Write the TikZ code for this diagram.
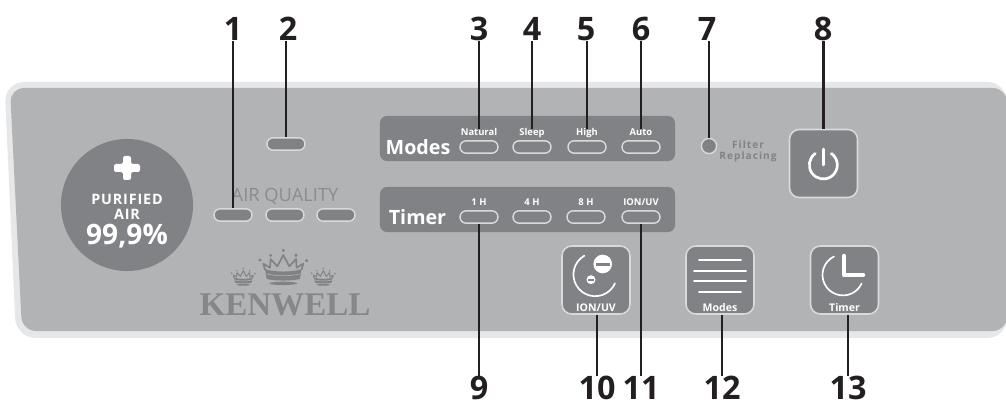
\documentclass[tikz,border=0pt]{standalone}
\usepackage{fontspec}
\setmainfont{Open Sans}
\newfontfamily\logofont{Liberation Serif}
\definecolor{panelgray}{HTML}{B1B3B4}
\definecolor{paneledge}{HTML}{E6E7E8}
\definecolor{keygray}{HTML}{808285}
\definecolor{keyedge}{HTML}{D9DADB}
\definecolor{leaderblack}{HTML}{231F20}
\tikzset{
    num/.style={font=\fontsize{23}{23}\selectfont\bfseries,text=leaderblack,inner sep=0pt},
    leader/.style={draw=leaderblack,line width=1.6pt},
    pill/.style={draw=keyedge,fill=keygray,line width=1pt,rounded corners=4.4pt,minimum width=0.95cm,minimum height=0.31cm,inner sep=0pt},
    key/.style={draw=keyedge,fill=keygray,line width=1.1pt,rounded corners=7pt,minimum width=1.7cm,minimum height=1.7cm,inner sep=0pt},
    band/.style={fill=keygray,draw=none,rounded corners=5pt,minimum width=7.375cm,minimum height=1.125cm,inner sep=0pt},
    small/.style={font=\fontsize{6.7}{7}\selectfont\bfseries,text=white,inner sep=0pt,anchor=base},
    keytxt/.style={font=\fontsize{7.5}{8}\selectfont\bfseries,text=white,inner sep=0pt,anchor=base},
    head/.style={font=\fontsize{14}{16}\selectfont\bfseries,text=white,inner sep=0pt},
    badgetxt/.style={text=white,inner sep=0pt,anchor=base},
    filtertxt/.style={font=\fontsize{7.2}{8}\selectfont\bfseries,text=keygray,inner sep=0pt,anchor=base},
    icon/.style={draw=white,line cap=round}
}
\newcommand{\crownshape}[1]{%
    \draw[line width=#1,line join=round] (-55,6)--(-60,24)--(-40,12)--(-38,38)--(-18,16)--(0,50)--(18,16)--(38,38)--(40,12)--(60,24)--(55,6);
    \fill (-55,8) .. controls (-30,-2) and (30,-2) .. (55,8) -- (50,-22) .. controls (25,-28) and (-25,-28) .. (-50,-22) -- cycle;
    \draw[panelgray,line width=0.4pt] (-52,-6) .. controls (-25,-14) and (25,-14) .. (52,-6);
    \fill (0,-35) ellipse[x radius=42,y radius=5];
    \fill (-70,35) circle[radius=5];
    \fill (-38,49) circle[radius=5];
    \fill (0,64) circle[radius=5];
    \fill (38,49) circle[radius=5];
    \fill (70,33) circle[radius=5];
}
\begin{document}
\begin{tikzpicture}[x=0.025cm,y=0.025cm]
        \useasboundingbox (0,0) rectangle (1006,402);
        % panel
        \begin{scope}
        \clip (0,0) rectangle (1006,402);
        \fill[paneledge,rounded corners=14pt] (4.5,320)--(16,64)--(1007,64)--(1007,320)--cycle;
        \fill[panelgray,rounded corners=10pt] (10,314)--(22,71)--(1007,71)--(1007,314)--cycle;
        \end{scope}
        % badge
        \node[circle,fill=keygray,minimum size=3.3cm,inner sep=0pt] (badge) at (127,197) {};
        \fill[white,rounded corners=1.5pt] (123,246)--(131,246)--(131,238)--(140,238)--(140,230)--(131,230)--(131,222)--(123,222)--(123,230)--(114,230)--(114,238)--(123,238)--cycle;
        \node[badgetxt,font=\fontsize{10.2}{10}\selectfont\bfseries] (purified) at (127,197) {\addfontfeature{LetterSpace=6}PURIFIED};
        \node[badgetxt,font=\fontsize{10.2}{10}\selectfont\bfseries] (air) at (127,183) {\addfontfeature{LetterSpace=6}AIR};
        \node[badgetxt,font=\fontsize{20}{20}\selectfont\bfseries] (percent) at (127,157) {99,9\%};
        % air quality
        \node[pill] (q1) at (233,187) {};
        \node[pill] (q2) at (285,187) {};
        \node[pill] (q3) at (336,187) {};
        \node[pill] (dust) at (286,258) {};
        \node[font=\fontsize{13}{13}\selectfont,text=keygray!80!panelgray,inner sep=0pt,anchor=base] (quality) at (285,200.3) {AIR QUALITY};
        % logo
        \node[font=\logofont\fontsize{23.5}{25}\selectfont\bfseries,text=keygray!90!panelgray,inner sep=0pt] (brand) at (285,97) {KENWELL};
        \begin{scope}[shift={(283.3,130.3)},scale=1/3,keygray]
        \crownshape{1.2pt}
        \end{scope}
        \begin{scope}[shift={(243.3,123)},scale=1/6,keygray]
        \crownshape{0.7pt}
        \end{scope}
        \begin{scope}[shift={(323.3,123)},scale=1/6,keygray]
        \crownshape{0.7pt}
        \end{scope}
        % modes band
        \node[band] (modesband) at (527.5,263.5) {};
        \node[head] (modeshead) at (418,255) {Modes};
        \node[pill] (natural) at (479,255) {};
        \node[pill] (sleep) at (532,255) {};
        \node[pill] (high) at (587,255) {};
        \node[pill] (auto) at (641,255) {};
        \node[small] (naturaltxt) at (479,266) {Natural};
        \node[small] (sleeptxt) at (532,266) {Sleep};
        \node[small] (hightxt) at (587,266) {High};
        \node[small] (autotxt) at (641,266) {Auto};
        % timer band
        \node[band] (timerband) at (527.5,192.5) {};
        \node[head] (timerhead) at (417.5,185) {Timer};
        \node[pill] (oneh) at (479,185) {};
        \node[pill] (fourh) at (532,185) {};
        \node[pill] (eighth) at (586,185) {};
        \node[pill] (ionuv) at (641,185) {};
        \node[small] (onehtxt) at (479,196) {1 H};
        \node[small] (fourhtxt) at (532,196) {4 H};
        \node[small] (eighthtxt) at (586,196) {8 H};
        \node[small] (ionuvtxt) at (641,196) {ION/UV};
        % filter lamp
        \node[circle,draw=keyedge,fill=keygray,line width=1pt,minimum size=0.38cm,inner sep=0pt] (lamp) at (709,256) {};
        \node[filtertxt] (filter) at (748,253) {\addfontfeature{LetterSpace=10}Filter};
        \node[filtertxt] (replacing) at (748,242) {\addfontfeature{LetterSpace=10}Replacing};
        % buttons
        \node[key] (power) at (823.5,238.5) {};
        \node[key] (ionkey) at (596,122) {};
        \node[key] (modekey) at (720,122) {};
        \node[key] (timekey) at (844.5,122) {};
        % power icon
        \draw[icon,line width=1.9pt] (815.3,248.5) arc (125:415:14);
        \draw[icon,line width=1.9pt] (823.3,253)--(823.3,237);
        % ion icon
        \draw[icon,line width=1.2pt] (584.3,146.3) arc (120:336:21.7);
        \fill[white] (602.7,138) circle[radius=9.3];
        \fill[keygray] (596,136.2) rectangle (610,139.2);
        \fill[white] (591,122.3) circle[radius=4.5];
        \fill[keygray] (588,121.5) rectangle (594,123);
        % modes icon
        \draw[icon,line width=1.4pt] (699,142)--(741,142);
        \draw[icon,line width=1.4pt] (694,131.3)--(746,131.3);
        \draw[icon,line width=1.4pt] (694,121)--(746,121);
        \draw[icon,line width=1.4pt] (699,110.3)--(741,110.3);
        % timer icon
        \draw[icon,line width=1.2pt] (834,145.5) arc (116:335:20.5);
        \draw[icon,line width=3.2pt,line join=round] (844,146)--(844,127)--(863,127);
        \node[keytxt] (ionkeytxt) at (596,91) {ION/UV};
        \node[keytxt] (modekeytxt) at (720,91) {Modes};
        \node[keytxt] (timekeytxt) at (844.5,91) {Timer};
        % numbers
        \node[num] (n1) at (233,373) {1};
        \node[num] (n2) at (288,373) {2};
        \node[num] (n3) at (479,373) {3};
        \node[num] (n4) at (532,373) {4};
        \node[num] (n5) at (586,373) {5};
        \node[num] (n6) at (641,373) {6};
        \node[num] (n7) at (707,373) {7};
        \node[num] (n8) at (823,373) {8};
        \node[num] (n9) at (479,14) {9};
        \node[num] (n10) at (597,14) {10};
        \node[num] (n11) at (641,14) {11};
        \node[num] (n12) at (722,14) {12};
        \node[num] (n13) at (848,14) {13};
        % leaders
        \draw[leader] (n1.south-|q1.north)--(q1.north);
        \draw[leader] (n2.south-|dust.north)--(dust.north);
        \draw[leader] (n3.south-|naturaltxt.north)--(naturaltxt.north);
        \draw[leader] (n4.south-|sleeptxt.north)--(sleeptxt.north);
        \draw[leader] (n5.south-|hightxt.north)--(hightxt.north);
        \draw[leader] (n6.south-|autotxt.north)--(autotxt.north);
        \draw[leader] (n7.south-|lamp.north)--(lamp.north);
        \draw[leader] (n8.south-|power.north)--(power.north);
        \draw[leader] (n9.north-|oneh.south)--(oneh.south);
        \draw[leader] (n10.north)--(n10.north|-ionkey.south);
        \draw[leader] (n11.north-|ionuv.south)--(ionuv.south);
        \draw[leader] (n12.north)--(n12.north|-modekey.south);
        \draw[leader] (n13.north)--(n13.north|-timekey.south);
    \end{tikzpicture}
\end{document}
